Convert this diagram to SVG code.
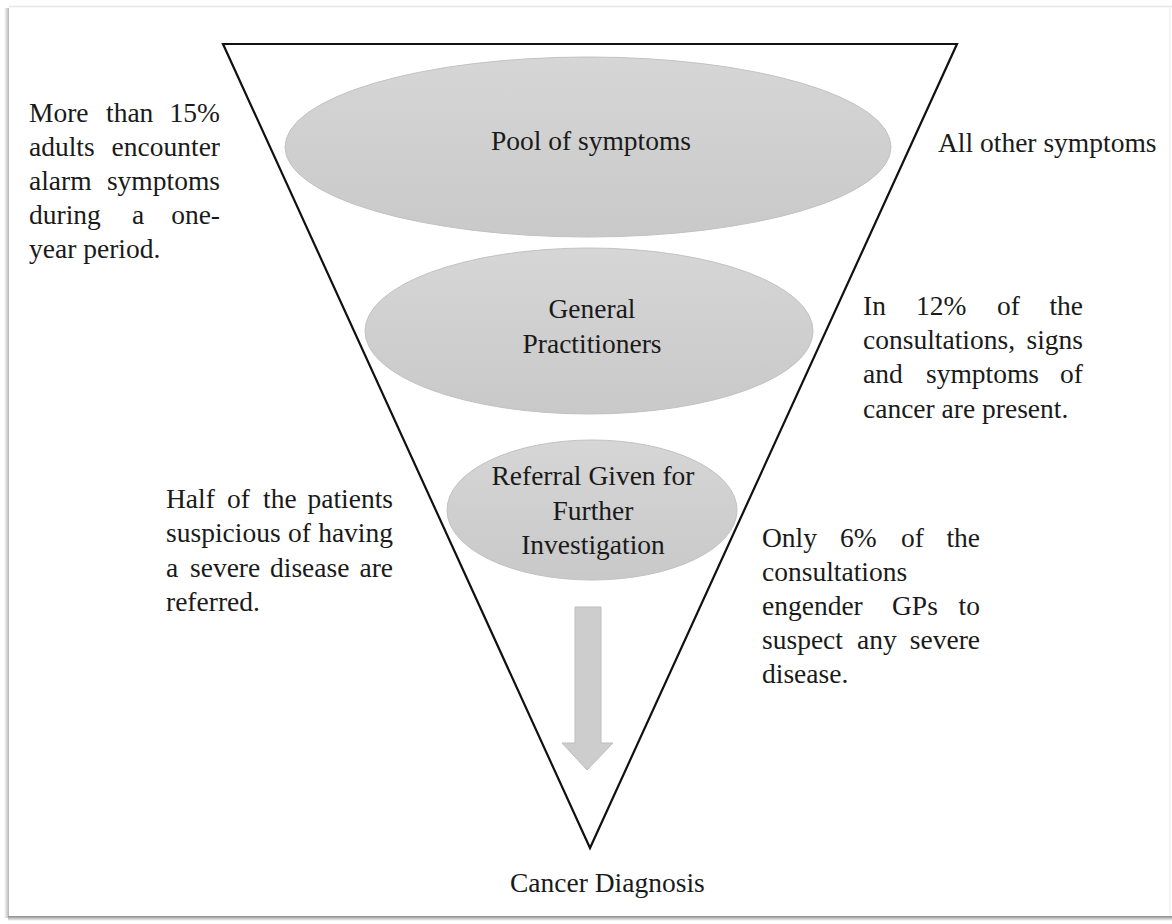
<svg xmlns="http://www.w3.org/2000/svg" width="1172" height="924" viewBox="0 0 1172 924">
  <defs>
    <linearGradient id="ellFill" x1="0" y1="0" x2="0" y2="1">
      <stop offset="0" stop-color="#d6d6d6"/>
      <stop offset="1" stop-color="#c9c9c9"/>
    </linearGradient>
    <linearGradient id="leftShadow" x1="0" y1="0" x2="1" y2="0">
      <stop offset="0" stop-color="#ffffff"/>
      <stop offset="1" stop-color="#b5b5b5"/>
    </linearGradient>
    <linearGradient id="bottomShadow" x1="0" y1="0" x2="0" y2="1">
      <stop offset="0" stop-color="#8a8a8a"/>
      <stop offset="1" stop-color="#ffffff"/>
    </linearGradient>
  </defs>
  <style>
    text { font-family: "Liberation Serif", "Times New Roman", serif; font-size: 27.5px; fill: #1a1a1a; }
    .c { text-anchor: middle; }
    .e { text-anchor: end; }
    .ell { fill: url(#ellFill); stroke: #c2c2c2; stroke-width: 1; }
    .funnel { fill: none; stroke: #111; stroke-width: 2.2; stroke-linejoin: miter; }
  </style>

  <rect x="0" y="0" width="1172" height="924" fill="#ffffff"/>
  <g id="frame">
    <rect x="4" y="8" width="5" height="910" fill="url(#leftShadow)"/>
    <rect x="8" y="916" width="1164" height="5" fill="url(#bottomShadow)"/>
    <line x1="9" y1="6.5" x2="1172" y2="6.5" stroke="#e6e6e6" stroke-width="1.5"/>
    <line x1="1170" y1="7" x2="1170" y2="916" stroke="#ececec" stroke-width="1"/>
  </g>

  <g id="funnel">
    <polygon class="funnel" points="223,44 957,44 590,848"/>
  </g>

  <g id="connectors">
    <polygon points="575,607 601,607 601,743 613,743 587,770 562,743 575,743" fill="#cdcdcd" stroke="#bdbdbd" stroke-width="1"/>
  </g>

  <g id="node-pool">
    <ellipse class="ell" cx="588" cy="147" rx="303" ry="90"/>
    <text class="c" x="591" y="150">Pool of symptoms</text>
  </g>

  <g id="node-gp">
    <ellipse class="ell" cx="589" cy="331" rx="224" ry="83"/>
    <text class="c" x="592" y="318">General</text>
    <text class="c" x="592" y="353">Practitioners</text>
  </g>

  <g id="node-referral">
    <ellipse class="ell" cx="592" cy="510" rx="145" ry="70"/>
    <text class="c" x="593" y="485">Referral Given for</text>
    <text class="c" x="593" y="520">Further</text>
    <text class="c" x="593" y="554">Investigation</text>
  </g>

  <g id="label-diagnosis">
    <text x="510" y="892">Cancer Diagnosis</text>
  </g>

  <g id="note-15">
    <text x="29" y="122">More</text><text x="106" y="122">than</text><text class="e" x="220" y="122">15%</text>
    <text x="29" y="156">adults</text><text class="e" x="220" y="156">encounter</text>
    <text x="29" y="190">alarm</text><text class="e" x="220" y="190">symptoms</text>
    <text x="29" y="224">during</text><text x="132" y="224">a</text><text class="e" x="220" y="224">one-</text>
    <text x="29" y="258">year period.</text>
  </g>

  <g id="note-other">
    <text x="938" y="152">All other symptoms</text>
  </g>

  <g id="note-12">
    <text x="863" y="315">In</text><text x="916" y="315">12%</text><text x="997" y="315">of</text><text class="e" x="1083" y="315">the</text>
    <text x="863" y="349">consultations,</text><text class="e" x="1083" y="349">signs</text>
    <text x="863" y="383">and</text><text x="926" y="383">symptoms</text><text class="e" x="1083" y="383">of</text>
    <text x="863" y="418">cancer are present.</text>
  </g>

  <g id="note-half">
    <text x="166" y="508">Half</text><text x="227" y="508">of</text><text x="263" y="508">the</text><text class="e" x="393" y="508">patients</text>
    <text x="166" y="542">suspicious</text><text x="288" y="542">of</text><text class="e" x="393" y="542">having</text>
    <text x="166" y="577">a</text><text x="190" y="577">severe</text><text x="270" y="577">disease</text><text class="e" x="393" y="577">are</text>
    <text x="166" y="611">referred.</text>
  </g>

  <g id="note-6">
    <text x="762" y="547">Only</text><text x="840" y="547">6%</text><text x="901" y="547">of</text><text class="e" x="980" y="547">the</text>
    <text x="762" y="581">consultations</text>
    <text x="762" y="615">engender</text><text x="892" y="615">GPs</text><text class="e" x="980" y="615">to</text>
    <text x="762" y="649">suspect</text><text x="857" y="649">any</text><text class="e" x="980" y="649">severe</text>
    <text x="762" y="683">disease.</text>
  </g>
</svg>
